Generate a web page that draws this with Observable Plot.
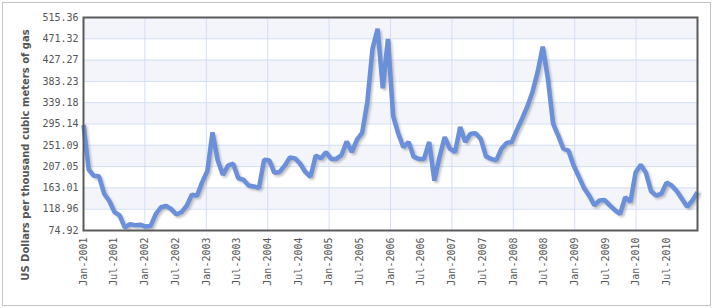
<!DOCTYPE html>
<html><head><meta charset="utf-8">
<script src="https://cdn.jsdelivr.net/npm/d3@7"></script>
<script src="https://cdn.jsdelivr.net/npm/@observablehq/plot@0.6"></script>
<style>
body{margin:0;background:#fff;}
#wrap{position:relative;width:714px;height:308px;overflow:hidden;}
#wrap svg{position:absolute;left:0;top:0;}
#border{position:absolute;left:2px;top:2px;width:707px;height:302px;border:1px solid #c4c4c4;pointer-events:none;z-index:2;}
</style></head><body><div id="wrap"><div id="border"></div></div>
<script>
// Monthly price, Jan-2001 .. Dec-2010
const values = [
  293, 201, 188, 187, 151, 136, 113, 106, 81, 88, 86, 87,
  83, 84, 109, 123, 126, 119, 108, 113, 126, 149, 147, 175,
  198, 278, 220, 190, 209, 213, 183, 180, 168, 166, 163, 221,
  220, 194, 196, 209, 226, 224, 213, 196, 186, 230, 224, 237,
  223, 223, 231, 259, 237, 263, 277, 340, 450, 492, 369, 471,
  312, 275, 247, 258, 227, 223, 223, 258, 178, 227, 268, 244,
  237, 289, 258, 275, 276, 264, 228, 223, 220, 244, 256, 258,
  283, 306, 331, 361, 402, 455, 389, 296, 271, 244, 240, 209,
  186, 163, 147, 127, 137, 138, 127, 117, 109, 144, 134, 195,
  211, 194, 156, 147, 151, 174, 168, 156, 140, 124, 137, 154
];
const xLabels = [
  "Jan-2001","Jul-2001","Jan-2002","Jul-2002","Jan-2003","Jul-2003","Jan-2004","Jul-2004",
  "Jan-2005","Jul-2005","Jan-2006","Jul-2006","Jan-2007","Jul-2007","Jan-2008","Jul-2008",
  "Jan-2009","Jul-2009","Jan-2010","Jul-2010"
];
const yTicks = [74.92, 118.96, 163.01, 207.05, 251.09, 295.14, 339.18, 383.23, 427.27, 471.32, 515.36];
const yTitle = "US Dollars per thousand cubic meters of gas";

const data = values.map((v, i) => ({i, v}));
const n = values.length - 1;
const xTickPos = xLabels.map((_, k) => k * n / xLabels.length);
const gridX = xTickPos.filter((_, k) => k % 2 === 0);
const bands = yTicks.slice(0, -1).map((y, k) => ({y1: y, y2: yTicks[k + 1], k})).filter(d => d.k % 2 === 1);

const chart = Plot.plot({
  width: 714, height: 308,
  marginLeft: 83, marginRight: 17, marginTop: 17, marginBottom: 78,
  style: {background: "transparent", fontFamily: "'DejaVu Sans Mono', monospace", fontSize: "10px", color: "#555"},
  x: {domain: [0, n], ticks: xTickPos, tickFormat: d => xLabels[xTickPos.indexOf(d)], tickRotate: -90, tickSize: 0, tickPadding: 7, label: null},
  y: {domain: [yTicks[0], yTicks[yTicks.length - 1]], ticks: yTicks, tickFormat: d => d.toFixed(2), tickSize: 0, tickPadding: 5, label: null},
  marks: [
    Plot.rect(bands, {y1: "y1", y2: "y2", fill: "#f3f5fb"}),
    Plot.ruleY(yTicks, {stroke: "#d3def4", strokeWidth: 1}),
    Plot.ruleX(gridX, {stroke: "#d3def4", strokeWidth: 1}),
    Plot.line(data, {x: "i", y: "v", stroke: "#777", strokeOpacity: 0.45, strokeWidth: 4, dx: 2, dy: 2, strokeLinejoin: "miter"}),
    Plot.line(data, {x: "i", y: "v", stroke: "#6a8fdb", strokeWidth: 4.5, strokeLinejoin: "miter", strokeLinecap: "butt"}),
    Plot.frame({stroke: "#5a5a5a", strokeWidth: 2})
  ]
});

const lines = chart.querySelectorAll('g[aria-label="line"]');
if (lines.length) lines[0].style.filter = "blur(1px)";

d3.select(chart).append("text")
  .attr("transform", "translate(25,155) rotate(-90)")
  .attr("text-anchor", "middle")
  .attr("dy", "0.35em")
  .attr("font-family", "'DejaVu Sans', sans-serif")
  .attr("font-weight", "bold")
  .attr("font-size", 10)
  .attr("fill", "#555")
  .text(yTitle);

document.getElementById("wrap").appendChild(chart);
</script>
</body></html>
